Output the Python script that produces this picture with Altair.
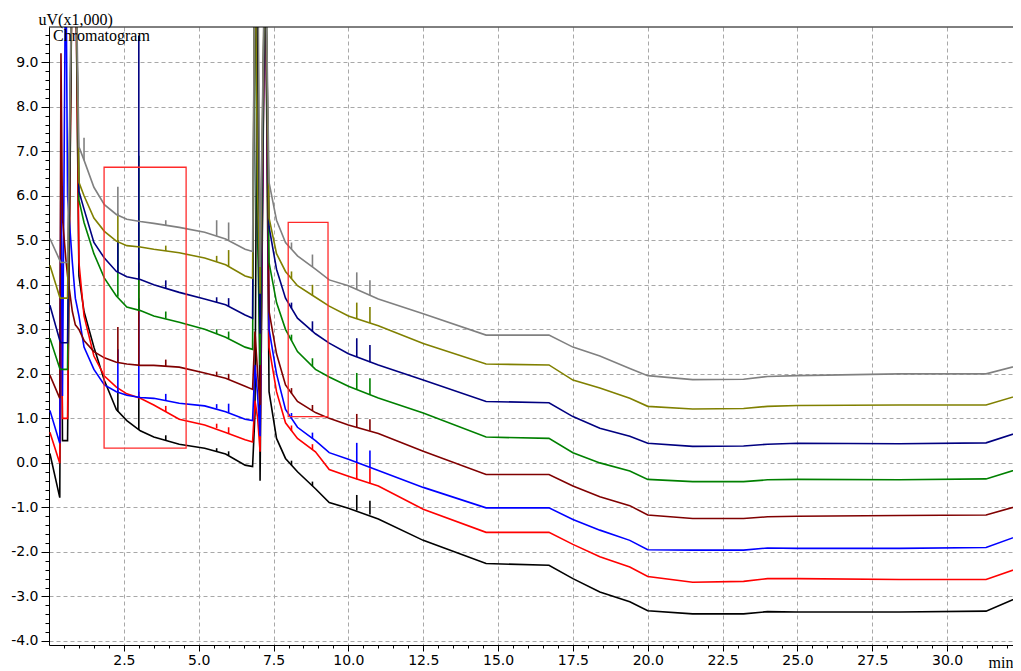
import altair as alt
import pandas as pd

# ---------------- data ----------------
times = [0.03, 0.36, 0.40, 0.45, 0.56, 0.62, 0.78, 0.88, 1.0,
         1.17, 1.5, 1.85, 2.25, 2.6, 3.05, 3.5, 4.35, 5.2, 5.9, 6.55, 6.8,
         6.88, 6.97, 7.05, 7.22, 7.35, 7.6, 7.9, 8.3, 8.9, 9.36,
         10.0, 11.0, 12.5, 14.6, 16.7, 17.5, 18.4, 19.4, 20.0, 21.5,
         23.2, 24.0, 25.0, 28.4, 31.3, 32.45]

trace_names = ["black", "red", "blue", "maroon", "green", "navy", "olive", "grey"]
trace_colors = ["#000000", "#ff0000", "#0000ff", "#800000", "#008000", "#000080", "#808000", "#808080"]

v_black = [0.21, -0.78, 6.0, 0.5, 0.5, 0.5, 12, 12, 4.2,
           3.4, 2.6, 1.85, 1.2, 0.95, 0.72, 0.58, 0.42, 0.33, 0.2, -0.05, -0.08,
           1.1, 12, -0.4, 12, 1.6, 0.55, 0.1, -0.2, -0.58, -0.89,
           -1.02, -1.26, -1.74, -2.26, -2.3, -2.6, -2.9, -3.12, -3.32, -3.39,
           -3.39, -3.34, -3.35, -3.35, -3.33, -3.0]
v_red = [0.69, -0.01, 5.0, 1.0, 1.0, 1.0, 12, 12, 4.5,
         3.3, 2.4, 1.95, 1.7, 1.55, 1.45, 1.3, 0.98, 0.85, 0.68, 0.52, 0.47,
         1.4, 1.0, 0.25, 12, 2.6, 1.6, 0.9, 0.55, 0.25, -0.15,
         -0.3, -0.52, -1.04, -1.56, -1.56, -1.83, -2.11, -2.34, -2.55, -2.68,
         -2.66, -2.6, -2.6, -2.62, -2.62, -2.35]
v_blue = [1.18, 0.44, 7.0, 1.5, 12, 6.0, 4.5, 3.7, 3.3,
          2.6, 2.1, 1.75, 1.6, 1.52, 1.47, 1.45, 1.34, 1.28, 1.15, 0.98, 0.95,
          2.2, 1.5, 0.6, 12, 3.0, 2.0, 1.2, 0.8, 0.5, 0.23,
          0.08, -0.17, -0.55, -1.01, -1.01, -1.27, -1.51, -1.74, -1.95, -1.96,
          -1.96, -1.91, -1.92, -1.92, -1.9, -1.62]
v_maroon = [1.97, 1.45, 9.2, 5.5, 4.6, 4.2, 3.4, 3.1, 3.0,
            2.75, 2.5, 2.36, 2.26, 2.22, 2.19, 2.19, 2.15, 2.02, 1.9, 1.72, 1.65,
            2.95, 2.0, 1.3, 12, 3.4, 2.45, 1.75, 1.38, 1.13, 1.0,
            0.85, 0.66, 0.26, -0.26, -0.26, -0.52, -0.76, -0.96, -1.17, -1.25,
            -1.25, -1.21, -1.2, -1.18, -1.17, -0.95]
v_green = [2.8, 2.12, 2.1, 2.1, 2.1, 2.1, 12, 12, 5.9,
           5.4, 4.7, 4.15, 3.75, 3.5, 3.42, 3.3, 3.16, 3.0, 2.82, 2.6, 2.55,
           12, 5.0, 2.2, 12, 4.5, 3.6, 3.0, 2.5, 2.1, 1.93,
           1.72, 1.46, 1.12, 0.58, 0.55, 0.23, 0.0, -0.18, -0.37, -0.42,
           -0.42, -0.38, -0.37, -0.38, -0.36, -0.12]
v_navy = [3.54, 2.75, 2.7, 2.7, 2.7, 2.7, 12, 12, 6.1,
          5.7, 4.95, 4.6, 4.3, 4.18, 4.12, 4.0, 3.83, 3.68, 3.55, 3.32, 3.25,
          12, 6.0, 2.9, 12, 5.3, 4.35, 3.7, 3.25, 2.9, 2.69,
          2.45, 2.2, 1.86, 1.38, 1.35, 1.04, 0.78, 0.6, 0.44, 0.37,
          0.38, 0.42, 0.44, 0.43, 0.45, 0.7]
v_olive = [4.44, 3.72, 3.7, 3.7, 3.7, 3.7, 12, 12, 6.3,
           6.0, 5.5, 5.2, 4.98, 4.88, 4.85, 4.8, 4.72, 4.6, 4.45, 4.2, 4.15,
           12, 6.0, 3.8, 12, 5.5, 4.7, 4.3, 3.98, 3.72, 3.52,
           3.3, 3.08, 2.68, 2.22, 2.2, 1.86, 1.68, 1.45, 1.27, 1.21,
           1.22, 1.27, 1.29, 1.3, 1.3, 1.53]
v_grey = [5.04, 4.55, 4.5, 4.5, 4.5, 4.5, 12, 12, 7.1,
          6.8, 6.19, 5.8, 5.58, 5.47, 5.42, 5.38, 5.29, 5.18, 5.03, 4.8, 4.75,
          12, 12, 4.4, 12, 6.3, 5.45, 4.95, 4.65, 4.35, 4.11,
          3.98, 3.68, 3.35, 2.87, 2.87, 2.6, 2.4, 2.12, 1.96, 1.87,
          1.88, 1.94, 1.96, 2.0, 2.0, 2.2]

# narrow peaks: time, baseline and apex for each trace
spike_times = [1.17, 2.3, 3.0, 3.9, 5.6, 6.0, 8.1, 8.8, 10.28, 10.72]
base_black = [3.4, 1.15, 0.74, 0.51, 0.26, 0.17, -0.05, -0.52, -1.07, -1.16]
peak_black = [3.4, 1.63, 1.5, 0.62, 0.33, 0.26, 0.05, -0.42, -0.72, -0.85]
base_red = [3.3, 1.68, 1.46, 1.15, 0.78, 0.66, 0.72, 0.3, -0.37, -0.46]
peak_red = [3.3, 1.68, 1.6, 1.28, 0.88, 0.8, 0.84, 0.42, 0.02, -0.12]
base_blue = [2.6, 1.6, 1.47, 1.4, 1.22, 1.13, 1.0, 0.55, 0.02, -0.1]
peak_blue = [2.6, 2.55, 3.7, 1.55, 1.32, 1.33, 1.12, 0.68, 0.45, 0.28]
base_maroon = [2.75, 2.26, 2.19, 2.17, 1.95, 1.88, 1.56, 1.17, 0.8, 0.72]
peak_maroon = [2.75, 3.05, 4.5, 2.32, 2.05, 2.0, 1.68, 1.3, 1.1, 0.98]
base_green = [5.4, 3.73, 3.42, 3.24, 2.9, 2.8, 2.75, 2.17, 1.65, 1.53]
peak_green = [5.4, 5.0, 6.9, 3.4, 3.0, 2.95, 2.88, 2.35, 2.02, 1.9]
base_navy = [5.7, 4.28, 4.12, 3.92, 3.6, 3.52, 3.47, 2.95, 2.38, 2.26]
peak_navy = [5.7, 5.0, 9.6, 4.1, 3.72, 3.7, 3.6, 3.18, 2.8, 2.65]
base_olive = [6.0, 4.97, 4.85, 4.76, 4.52, 4.42, 4.14, 3.76, 3.24, 3.14]
peak_olive = [6.0, 5.6, 4.85, 4.88, 4.65, 4.78, 4.3, 4.0, 3.6, 3.5]
base_grey = [6.8, 5.56, 5.42, 5.34, 5.1, 5.0, 4.8, 4.4, 3.9, 3.76]
peak_grey = [7.3, 6.2, 5.42, 5.45, 5.45, 5.4, 4.95, 4.68, 4.28, 4.1]

# highlighted regions (red frames)
box_t0 = [1.84, 7.99]
box_t1 = [4.58, 9.32]
box_v0 = [0.33, 1.04]
box_v1 = [6.64, 5.40]

x_major = [2.5, 5.0, 7.5, 10.0, 12.5, 15.0, 17.5, 20.0, 22.5, 25.0, 27.5, 30.0]
y_major = [-4.0, -3.0, -2.0, -1.0, 0.0, 1.0, 2.0, 3.0, 4.0, 5.0, 6.0, 7.0, 8.0, 9.0]
x_minor = [k * 0.5 for k in range(1, 65)]
y_minor = [round(-4.0 + k * 0.2, 1) for k in range(0, 70)]

# ---------------- tables ----------------
values = {"black": v_black, "red": v_red, "blue": v_blue, "maroon": v_maroon,
          "green": v_green, "navy": v_navy, "olive": v_olive, "grey": v_grey}
bases = {"black": base_black, "red": base_red, "blue": base_blue, "maroon": base_maroon,
         "green": base_green, "navy": base_navy, "olive": base_olive, "grey": base_grey}
peaks = {"black": peak_black, "red": peak_red, "blue": peak_blue, "maroon": peak_maroon,
         "green": peak_green, "navy": peak_navy, "olive": peak_olive, "grey": peak_grey}

W, H = 964, 618
xs = alt.Scale(domain=[0, 32.2], nice=False, zero=False)
ys = alt.Scale(domain=[-4.09, 9.79], nice=False, zero=False)

label_expr = "replace(format(datum.value, '.1f'), '\u2212', '-')"

x_axis_major = alt.Axis(values=x_major, labelExpr=label_expr, orient="bottom",
                        grid=True, gridColor="#a8a8a8", gridDash=[4, 3], gridWidth=1,
                        domain=True, domainColor="black", domainWidth=1,
                        ticks=True, tickSize=6, tickColor="black", tickWidth=1,
                        labelFont="DejaVu Sans", labelFontSize=14, labelColor="black",
                        labelPadding=2, labelFlush=False, labelOverlap=False,
                        title="min", titleFont="Liberation Serif", titleFontSize=16,
                        titleFontWeight="normal", titleColor="black",
                        titleX=939, titleY=22, titleAlign="left", titleBaseline="alphabetic")
y_axis_major = alt.Axis(values=y_major, labelExpr=label_expr, orient="left",
                        grid=True, gridColor="#a8a8a8", gridDash=[4, 3], gridWidth=1,
                        domain=True, domainColor="black", domainWidth=1,
                        ticks=True, tickSize=8, tickColor="black", tickWidth=1,
                        labelFont="DejaVu Sans", labelFontSize=14, labelColor="black",
                        labelPadding=3, labelFlush=False, labelOverlap=False,
                        title="uV(x1,000)", titleFont="Liberation Serif", titleFontSize=16,
                        titleFontWeight="normal", titleColor="black", titleAngle=0,
                        titleX=-11, titleY=-3, titleAlign="left", titleBaseline="alphabetic")
x_axis_minor = alt.Axis(values=x_minor, orient="bottom", grid=False, domain=False, labels=False,
                        ticks=True, tickSize=3, tickColor="black", tickWidth=1, title="")
y_axis_minor = alt.Axis(values=y_minor, orient="left", grid=False, domain=False, labels=False,
                        ticks=True, tickSize=4, tickColor="black", tickWidth=1, title="")

grey_df = pd.DataFrame({"t": times, "v": v_grey})
axis_layer = alt.Chart(grey_df).mark_line(opacity=0).encode(
    x=alt.X("t:Q", scale=xs, axis=x_axis_major),
    y=alt.Y("v:Q", scale=ys, axis=y_axis_major))
minor_layer = alt.Chart(grey_df).mark_line(opacity=0).encode(
    x=alt.X("t:Q", scale=xs, axis=x_axis_minor),
    y=alt.Y("v:Q", scale=ys, axis=y_axis_minor))

layers = [axis_layer, minor_layer]
for name, color in zip(trace_names, trace_colors):
    ldf = pd.DataFrame({"t": times, "v": values[name]})
    layers.append(alt.Chart(ldf).mark_line(color=color, strokeWidth=1.6, clip=True,
                                           strokeJoin="miter").encode(
        x=alt.X("t:Q", scale=xs, axis=None),
        y=alt.Y("v:Q", scale=ys, axis=None),
        order="t:Q"))
    rows = [(t, b, p) for t, b, p in zip(spike_times, bases[name], peaks[name]) if p != b]
    sdf = pd.DataFrame(rows, columns=["t", "base", "peak"])
    layers.append(alt.Chart(sdf).mark_rule(color=color, strokeWidth=1.6, clip=True).encode(
        x=alt.X("t:Q", scale=xs, axis=None),
        y=alt.Y("peak:Q", scale=ys, axis=None),
        y2="base:Q"))

boxes = pd.DataFrame({"t0": box_t0, "t1": box_t1, "v0": box_v0, "v1": box_v1})
layers.append(alt.Chart(boxes).mark_rect(fillOpacity=0, stroke="#ff2a2a", strokeWidth=1.3).encode(
    x=alt.X("t0:Q", scale=xs, axis=None), x2="t1:Q",
    y=alt.Y("v0:Q", scale=ys, axis=None), y2="v1:Q"))

one = pd.DataFrame({"a": [0]})
layers.append(alt.Chart(one).mark_text(text="Chromatogram", align="left", baseline="alphabetic",
                                       font="Liberation Serif", fontSize=16, color="black").encode(
    x=alt.value(4), y=alt.value(14)))
layers.append(alt.Chart(one).mark_rule(color="black", strokeWidth=1).encode(
    x=alt.value(0), x2=alt.value(W), y=alt.value(0)))

chart = alt.layer(*layers).resolve_axis(x="independent", y="independent").properties(
    width=W, height=H,
    autosize=alt.AutoSizeParams(type="none"),
    padding={"left": 41, "top": 19, "right": 0, "bottom": 26},
).configure_view(stroke="transparent")

chart.save("out.html", embed_options={"renderer": "svg", "actions": False})
